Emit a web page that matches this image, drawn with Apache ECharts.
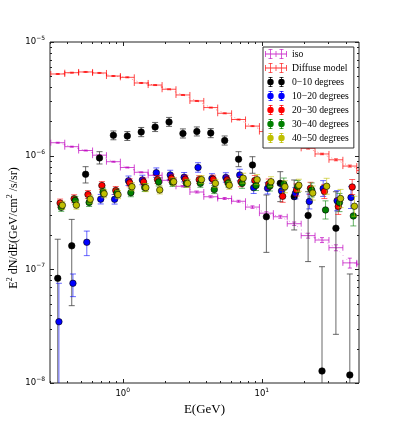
<!DOCTYPE html>
<html>
<head>
<meta charset="utf-8">
<script src="https://cdn.jsdelivr.net/npm/echarts@6/dist/echarts.min.js"></script>
<style>
  html, body { margin: 0; padding: 0; background: #fff; }
  #chart { width: 399px; height: 427px; }
</style>
</head>
<body>
<div id="chart"></div>
<script>
// --- Data ---
// bin centres in GeV (0.1 decade bins); the models have one extra bin past 50 GeV
const energy = [0.341, 0.430, 0.541, 0.681, 0.857, 1.079, 1.358, 1.710, 2.153, 2.710, 3.412,
    4.295, 5.408, 6.808, 8.570, 10.79, 13.58, 17.10, 21.53, 27.10, 34.12, 42.95];
const modelEnergy = energy.concat([54.08]);
const binEdges = [0.304, 0.383, 0.482, 0.607, 0.764, 0.962, 1.211, 1.524, 1.919, 2.415, 3.041, 3.828,
    4.819, 6.067, 7.638, 9.616, 12.11, 15.24, 19.19, 24.15, 30.41, 38.28, 48.19, 60.67];

// models (E^2 dN/dE)
const isoFlux = [1.30e-6, 1.20e-6, 1.11e-6, 1.01e-6, 8.85e-7, 7.87e-7, 7.14e-7, 6.72e-7, 6.07e-7, 5.38e-7,
    4.79e-7, 4.35e-7, 4.20e-7, 3.97e-7, 3.53e-7, 3.12e-7, 2.90e-7, 2.52e-7, 1.98e-7, 1.81e-7, 1.55e-7, 1.14e-7, 1.11e-7];
const isoErrFrac = [0.01, 0.01, 0.01, 0.01, 0.01, 0.01, 0.01, 0.01, 0.01, 0.015, 0.02, 0.02, 0.02, 0.02, 0.025,
    0.03, 0.03, 0.035, 0.05, 0.05, 0.06, 0.10, 0.10];
const diffuseFlux = [5.23e-6, 5.37e-6, 5.45e-6, 5.34e-6, 5.02e-6, 4.89e-6, 4.36e-6, 4.18e-6, 3.84e-6, 3.42e-6,
    3.03e-6, 2.65e-6, 2.36e-6, 2.08e-6, 1.82e-6, 1.63e-6, 1.46e-6, 1.29e-6, 1.16e-6, 1.035e-6, 9.2e-7, 8.1e-7, 7.4e-7];
const diffuseErrFrac = [0.01, 0.01, 0.01, 0.01, 0.01, 0.01, 0.01, 0.01, 0.01, 0.01, 0.01, 0.01, 0.01, 0.01, 0.01,
    0.012, 0.012, 0.015, 0.015, 0.015, 0.02, 0.02, 0.02];

// 0-10 degrees (value, lower, upper; 1e-9 = error bar runs off the bottom)
const deg0 = [8.34e-8, 1.61e-7, 6.86e-7, 9.54e-7, 1.51e-6, 1.49e-6, 1.615e-6, 1.787e-6, 1.978e-6, 1.567e-6, 1.632e-6,
    1.583e-6, 1.36e-6, 9.31e-7, 8.28e-7, 2.90e-7, 5.71e-7, 4.36e-7, 2.98e-7, 1.275e-8, 2.30e-7, 1.176e-8];
const deg0Lo = [1e-9, 4.79e-8, 5.75e-7, 8.45e-7, 1.38e-6, 1.36e-6, 1.47e-6, 1.63e-6, 1.81e-6, 1.43e-6, 1.49e-6,
    1.44e-6, 1.24e-6, 8.0e-7, 7.0e-7, 1.41e-7, 3.94e-7, 2.22e-7, 1.17e-7, 1e-9, 2.68e-8, 1e-9];
const deg0Hi = [1.84e-7, 2.75e-7, 8.0e-7, 1.084e-6, 1.65e-6, 1.63e-6, 1.77e-6, 1.96e-6, 2.17e-6, 1.72e-6, 1.79e-6,
    1.73e-6, 1.49e-6, 1.084e-6, 9.79e-7, 4.51e-7, 7.23e-7, 6.11e-7, 4.82e-7, 1.055e-7, 4.82e-7, 9.1e-8];

// 10-20 degrees
const deg10 = [3.46e-8, 7.54e-8, 1.73e-7, 4.14e-7, 4.13e-7, 6.01e-7, 6.11e-7, 7.08e-7, 6.76e-7, 6.46e-7, 7.87e-7,
    6.30e-7, 6.43e-7, 6.76e-7, 5.22e-7, 5.16e-7, 4.89e-7, 4.67e-7, 3.95e-7, 5.14e-7, 4.01e-7, 4.29e-7];
const deg10Lo = [1e-9, 5.75e-8, 1.32e-7, 3.76e-7, 3.75e-7, 5.46e-7, 5.55e-7, 6.43e-7, 6.14e-7, 5.87e-7, 7.15e-7,
    5.72e-7, 5.84e-7, 6.02e-7, 4.65e-7, 4.60e-7, 4.36e-7, 4.16e-7, 3.40e-7, 4.38e-7, 3.27e-7, 3.43e-7];
const deg10Hi = [7.54e-8, 9.1e-8, 2.17e-7, 4.56e-7, 4.55e-7, 6.62e-7, 6.73e-7, 7.80e-7, 7.44e-7, 7.11e-7, 8.67e-7,
    6.94e-7, 7.08e-7, 7.59e-7, 5.86e-7, 5.79e-7, 5.49e-7, 5.24e-7, 4.59e-7, 6.03e-7, 4.92e-7, 5.37e-7];

// 20-30, 30-40, 40-50 degrees (error = half width in decades)
const deg20 = [3.83e-7, 4.18e-7, 4.55e-7, 5.46e-7, 4.94e-7, 5.77e-7, 5.87e-7, 6.17e-7, 6.33e-7, 6.20e-7, 6.15e-7,
    6.21e-7, 6.11e-7, 5.90e-7, 6.05e-7, 5.63e-7, 4.39e-7, 4.99e-7, 5.16e-7, 4.84e-7, 3.57e-7, 5.30e-7];
const deg20Err = [0.035, 0.035, 0.035, 0.035, 0.035, 0.035, 0.035, 0.035, 0.035, 0.035, 0.035,
    0.035, 0.035, 0.044, 0.044, 0.044, 0.053, 0.053, 0.053, 0.062, 0.07, 0.066];
const deg30 = [3.51e-7, 4.04e-7, 3.87e-7, 4.79e-7, 4.69e-7, 4.72e-7, 5.25e-7, 5.87e-7, 5.81e-7, 5.71e-7, 5.71e-7,
    5.03e-7, 5.75e-7, 5.71e-7, 5.46e-7, 5.41e-7, 5.63e-7, 5.36e-7, 4.99e-7, 3.33e-7, 3.87e-7, 2.95e-7];
const deg30Err = [0.035, 0.035, 0.035, 0.035, 0.035, 0.035, 0.035, 0.035, 0.035, 0.035, 0.035,
    0.035, 0.035, 0.044, 0.044, 0.044, 0.053, 0.053, 0.062, 0.08, 0.08, 0.088];
const deg40 = [3.66e-7, 3.67e-7, 4.14e-7, 4.62e-7, 4.54e-7, 5.33e-7, 5.23e-7, 4.99e-7, 5.90e-7, 5.71e-7, 6.16e-7,
    5.71e-7, 5.49e-7, 6.33e-7, 6.15e-7, 5.90e-7, 5.33e-7, 5.49e-7, 4.69e-7, 5.38e-7, 4.20e-7, 3.59e-7];
const deg40Err = [0.035, 0.035, 0.035, 0.035, 0.035, 0.035, 0.035, 0.035, 0.035, 0.035, 0.035,
    0.035, 0.035, 0.044, 0.044, 0.044, 0.053, 0.053, 0.062, 0.07, 0.08, 0.088];

// small multiplicative offsets in E so the point sets don't sit on top of each other
const xShift = [1.00, 1.02, 1.04, 1.06, 1.08];

// tick values
const xMajorTicks = [1, 10];
const xMinorTicks = [0.3, 0.4, 0.5, 0.6, 0.7, 0.8, 0.9, 2, 3, 4, 5, 6, 7, 8, 9, 20, 30, 40];
const yMajorTicks = [1e-8, 1e-7, 1e-6, 1e-5];
const yMinorTicks = [2e-8, 3e-8, 4e-8, 5e-8, 6e-8, 7e-8, 8e-8, 9e-8, 2e-7, 3e-7, 4e-7, 5e-7, 6e-7, 7e-7, 8e-7, 9e-7,
    2e-6, 3e-6, 4e-6, 5e-6, 6e-6, 7e-6, 8e-6, 9e-6];

const legendNames = ['iso', 'Diffuse model', '0\u221210 degrees', '10\u221220 degrees', '20\u221230 degrees',
    '30\u221240 degrees', '40\u221250 degrees'];

// --- Styling ---
const X_MIN = 0.3, X_MAX = 50, Y_MIN = 1e-8, Y_MAX = 1e-5;
const colors = ['#000000', '#0000ff', '#ff0000', '#008000', '#bfbf00'];
const isoColor = '#bf00bf';
const diffuseColor = '#ff0000';
const serifFont = '"Liberation Serif", "DejaVu Serif", serif';
const sansFont = '"DejaVu Sans", "Liberation Sans", sans-serif';

const chart = echarts.init(document.getElementById('chart'));

function clamp(v, a, b) { return Math.max(a, Math.min(b, v)); }

// vertical error bar with caps; caps are dropped where the bar leaves the axes
function errorBarRenderer(color, opacity) {
    return function (params, api) {
        const r = params.coordSys;
        const top = r.y, bottom = r.y + r.height;
        const xv = api.value(0);
        const x = api.coord([xv, api.value(1)])[0];
        const yLo = api.coord([xv, api.value(2)])[1];
        const yHi = api.coord([xv, api.value(3)])[1];
        const style = { stroke: color, lineWidth: 1, opacity: opacity };
        const children = [{
            type: 'line',
            shape: { x1: x, y1: clamp(yHi, top, bottom), x2: x, y2: clamp(yLo, top, bottom) },
            style: style
        }];
        if (yHi >= top) children.push({ type: 'line', shape: { x1: x - 3, y1: yHi, x2: x + 3, y2: yHi }, style: style });
        if (yLo <= bottom) children.push({ type: 'line', shape: { x1: x - 3, y1: yLo, x2: x + 3, y2: yLo }, style: style });
        return { type: 'group', children: children };
    };
}

// model bin: horizontal bar over the bin with end caps + small vertical error
function modelRenderer(color, opacity) {
    return function (params, api) {
        const r = params.coordSys;
        const left = r.x, right = r.x + r.width;
        const xv = api.value(0), yv = api.value(1);
        const c = api.coord([xv, yv]);
        const xa = api.coord([api.value(2), yv])[0];
        const xb = api.coord([api.value(3), yv])[0];
        const yLo = api.coord([xv, api.value(4)])[1];
        const yHi = api.coord([xv, api.value(5)])[1];
        const style = { stroke: color, lineWidth: 1, opacity: opacity };
        const children = [{
            type: 'line',
            shape: { x1: clamp(xa, left, right), y1: c[1], x2: clamp(xb, left, right), y2: c[1] },
            style: style
        }];
        if (xa >= left) children.push({ type: 'line', shape: { x1: xa, y1: c[1] - 3, x2: xa, y2: c[1] + 3 }, style: style });
        if (xb <= right) children.push({ type: 'line', shape: { x1: xb, y1: c[1] - 3, x2: xb, y2: c[1] + 3 }, style: style });
        if (c[0] <= right) {
            children.push({ type: 'line', shape: { x1: c[0], y1: yHi, x2: c[0], y2: yLo }, style: style });
            children.push({ type: 'line', shape: { x1: c[0] - 2, y1: yHi, x2: c[0] + 2, y2: yHi }, style: style });
            children.push({ type: 'line', shape: { x1: c[0] - 2, y1: yLo, x2: c[0] + 2, y2: yLo }, style: style });
        }
        return { type: 'group', children: children };
    };
}

// inward ticks on all four sides of the box
function tickRenderer(params, api) {
    const r = params.coordSys;
    const kind = api.value(2);
    const len = (kind === 1 || kind === 3) ? 4 : 2;
    const style = { stroke: '#222', lineWidth: 1 };
    if (kind <= 1) {
        const x = Math.round(api.coord([api.value(0), Y_MIN])[0]) + 0.5;
        return { type: 'group', children: [
            { type: 'line', shape: { x1: x, y1: r.y + r.height, x2: x, y2: r.y + r.height - len }, style: style },
            { type: 'line', shape: { x1: x, y1: r.y, x2: x, y2: r.y + len }, style: style }
        ] };
    }
    const y = Math.round(api.coord([X_MIN, api.value(1)])[1]) + 0.5;
    return { type: 'group', children: [
        { type: 'line', shape: { x1: r.x, y1: y, x2: r.x + len, y2: y }, style: style },
        { type: 'line', shape: { x1: r.x + r.width, y1: y, x2: r.x + r.width - len, y2: y }, style: style }
    ] };
}

function modelData(flux, errFrac) {
    return modelEnergy.map((e, i) => [e, flux[i], binEdges[i], binEdges[i + 1],
        flux[i] * (1 - errFrac[i]), flux[i] * (1 + errFrac[i])]);
}
function pointData(k, vals, lo, hi) {
    return energy.map((e, i) => [e * xShift[k], vals[i], lo[i], hi[i]]);
}
function pointDataDex(k, vals, dex) {
    return energy.map((e, i) => [e * xShift[k], vals[i],
        vals[i] / Math.pow(10, dex[i]), vals[i] * Math.pow(10, dex[i])]);
}

const pointSets = [
    pointData(0, deg0, deg0Lo, deg0Hi),
    pointData(1, deg10, deg10Lo, deg10Hi),
    pointDataDex(2, deg20, deg20Err),
    pointDataDex(3, deg30, deg30Err),
    pointDataDex(4, deg40, deg40Err)
];

const series = [];
// models
[[legendNames[0], isoFlux, isoErrFrac, isoColor], [legendNames[1], diffuseFlux, diffuseErrFrac, diffuseColor]]
    .forEach(([name, flux, err, color], m) => {
        series.push({
            name: name, type: 'custom', z: 2 + m,
            renderItem: modelRenderer(color, 0.7),
            data: modelData(flux, err), silent: true
        });
        series.push({
            name: name, type: 'line', z: 2 + m, showSymbol: false, silent: true,
            lineStyle: { color: color, width: 1, type: [1, 4], opacity: 0.45 },
            data: modelEnergy.map((e, i) => [e, flux[i]])
        });
    });
// point sets
pointSets.forEach((data, k) => {
    series.push({
        name: legendNames[k + 2], type: 'custom', z: 10 + 2 * k,
        renderItem: errorBarRenderer(k === 0 ? '#444' : colors[k], k === 0 ? 0.8 : 0.6),
        data: data, silent: true
    });
    series.push({
        name: legendNames[k + 2], type: 'scatter', z: 11 + 2 * k,
        symbol: 'circle', symbolSize: 6.5,
        itemStyle: { color: colors[k], borderColor: '#000', borderWidth: 0.6, opacity: 1 },
        data: data.map(d => [d[0], d[1]])
    });
});
// ticks
series.push({
    type: 'custom', z: 30, silent: true,
    renderItem: tickRenderer,
    data: [].concat(
        xMinorTicks.map(v => [v, Y_MIN, 0]),
        xMajorTicks.map(v => [v, Y_MIN, 1]),
        yMinorTicks.map(v => [X_MIN, v, 2]),
        yMajorTicks.map(v => [X_MIN, v, 3]))
});

// legend glyphs: two crosses (models) or two dots with error bars (data), 22x10 box
const crossIcon = 'path://M0 4.5h22v1H0z' +
    'M0 2h0.8v6H0zM10.6 2h0.8v6h-0.8zM21.2 2h0.8v6h-0.8z' +
    'M5.1 0h0.8v10h-0.8zM16.1 0h0.8v10h-0.8z' +
    'M3.5 0h4v0.8h-4zM3.5 9.2h4v0.8h-4zM14.5 0h4v0.8h-4zM14.5 9.2h4v0.8h-4z';
const dotIcon = 'path://M0 0M22 10' +
    'M2.3 5a3.2 3.2 0 1 1 6.4 0a3.2 3.2 0 1 1 -6.4 0z' +
    'M13.3 5a3.2 3.2 0 1 1 6.4 0a3.2 3.2 0 1 1 -6.4 0z' +
    'M5.1 0h0.8v10h-0.8zM16.1 0h0.8v10h-0.8z' +
    'M3.5 0h4v0.8h-4zM3.5 9.2h4v0.8h-4zM14.5 0h4v0.8h-4zM14.5 9.2h4v0.8h-4z';
const legendColors = [isoColor, diffuseColor].concat(colors);

function powLabel(value) {
    const e = Math.round(Math.log10(value));
    return '{b|10}{s|' + String(e).replace('-', '\u2212') + '}';
}
const powRich = {
    b: { fontFamily: sansFont, fontSize: 8.5, lineHeight: 13, color: '#000' },
    s: { fontFamily: sansFont, fontSize: 6, lineHeight: 6, verticalAlign: 'top', color: '#000' }
};

const option = {
    animation: false,
    backgroundColor: '#fff',
    grid: { left: 50, top: 42, right: 40, bottom: 44, show: true, borderColor: '#222', borderWidth: 1, backgroundColor: 'transparent' },
    xAxis: {
        type: 'log', min: X_MIN, max: X_MAX, logBase: 10,
        axisLine: { show: false }, axisTick: { show: false }, splitLine: { show: false },
        axisLabel: { formatter: powLabel, rich: powRich, margin: 4, showMinLabel: false, showMaxLabel: false },
        name: 'E(GeV)', nameLocation: 'middle', nameGap: 20,
        nameTextStyle: { fontFamily: serifFont, fontSize: 13, color: '#000' }
    },
    yAxis: {
        type: 'log', min: Y_MIN, max: Y_MAX, logBase: 10,
        axisLine: { show: false }, axisTick: { show: false }, splitLine: { show: false },
        axisLabel: { formatter: powLabel, rich: powRich, margin: 5 }
    },
    legend: {
        orient: 'vertical', left: 263, top: 47,
        padding: [0, 5, 3, 2], itemGap: 0, itemWidth: 22, itemHeight: 10,
        backgroundColor: '#fff', borderColor: '#333', borderWidth: 1, borderRadius: 0,
        textStyle: { fontFamily: serifFont, fontSize: 9.7, lineHeight: 14, color: '#000' },
        selectedMode: false,
        data: legendNames.map((n, i) => ({
            name: n, icon: i < 2 ? crossIcon : dotIcon,
            itemStyle: { color: legendColors[i], borderWidth: 0, opacity: i < 2 ? 0.8 : 1 }
        }))
    },
    graphic: [{
        type: 'text', x: 14, y: 228, rotation: Math.PI / 2,
        style: {
            text: '{a|E}{s|2}{a| dN/dE(GeV/cm}{s|2}{a| /s/sr)}',
            align: 'center', verticalAlign: 'middle',
            rich: {
                a: { fontFamily: serifFont, fontSize: 12, lineHeight: 16, fill: '#000' },
                s: { fontFamily: serifFont, fontSize: 8, lineHeight: 9, verticalAlign: 'top', fill: '#000' }
            }
        }
    }],
    series: series
};

chart.setOption(option);
</script>
</body>
</html>
